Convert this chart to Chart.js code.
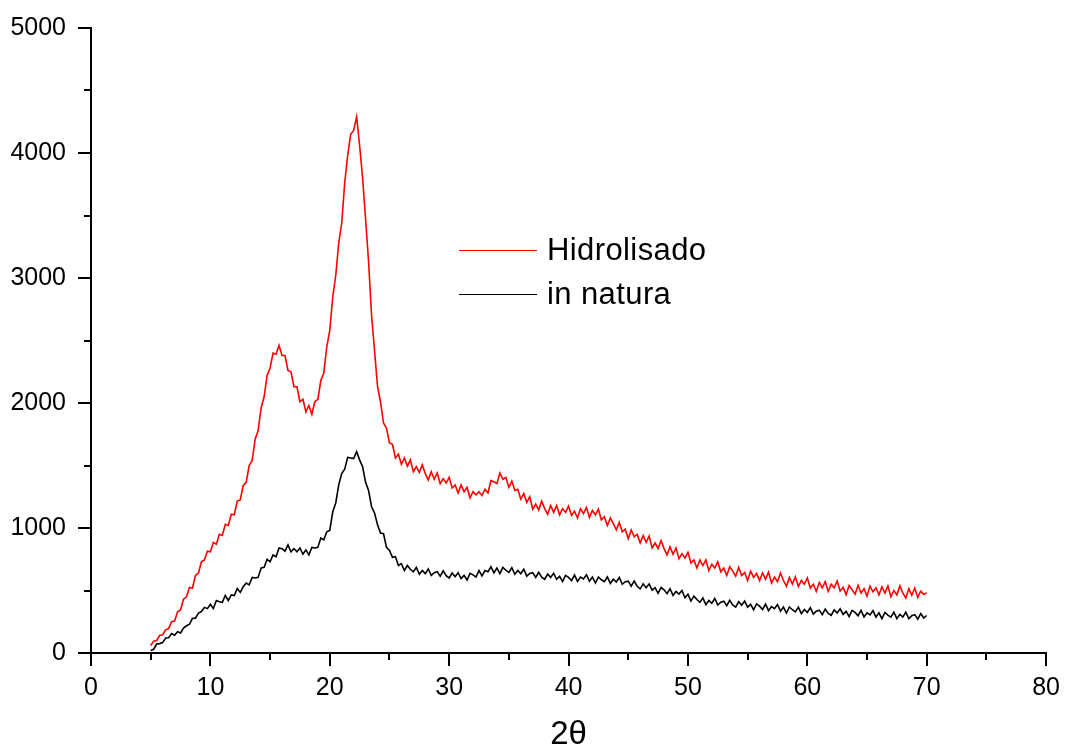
<!DOCTYPE html>
<html>
<head>
<meta charset="utf-8">
<title>DRX</title>
<script src="https://cdn.jsdelivr.net/npm/chart.js"></script>
<style>
  html, body { margin: 0; padding: 0; background: #fff; }
  #wrap { width: 1067px; height: 749px; }
</style>
</head>
<body>
<div id="wrap"><canvas id="xrd" width="1067" height="749"></canvas></div>
<script>
// 2θ sampling: 5° to 70°, every 0.25°
const thetaStart = 5;
const thetaStep = 0.25;

// intensities (counts)
const hidrolisado = [
  60, 95, 100, 140,   145, 185, 195, 250,   255, 330, 345, 430,   450, 525, 520, 620,
  640, 730, 745, 815,   810, 885, 870, 950,   940, 1030, 1020, 1110,   1105, 1215, 1225, 1340,
  1365, 1500, 1540, 1710,   1780, 1960, 2050, 2220,   2280, 2400, 2390, 2460,   2380, 2380, 2260, 2250,
  2130, 2130, 2010, 2030,   1930, 1980, 1910, 2010,   2030, 2180, 2240, 2450,   2580, 2850, 3020, 3280,
  3440, 3760, 3980, 4150,   4180, 4290, 4060, 3800,   3470, 3130, 2700, 2420,   2130, 2010, 1840, 1800,
  1680, 1670, 1560, 1590,   1510, 1560, 1495, 1545,   1450, 1490, 1445, 1505,   1435, 1385, 1450, 1390,
  1440, 1355, 1395, 1360,   1405, 1320, 1345, 1280,   1345, 1290, 1325, 1240,   1290, 1265, 1290, 1260,
  1310, 1280, 1380, 1370,   1355, 1440, 1390, 1405,   1325, 1375, 1300, 1310,   1230, 1275, 1205, 1250,
  1150, 1190, 1145, 1215,   1155, 1110, 1180, 1125,   1180, 1105, 1155, 1125,   1175, 1100, 1135, 1080,
  1155, 1115, 1165, 1085,   1140, 1105, 1150, 1065,   1090, 1020, 1080, 1035,   985, 1045, 970, 990,
  915, 985, 930, 950,   880, 940, 885, 935,   840, 880, 835, 900,   835, 785, 850, 790,
  840, 755, 795, 760,   805, 720, 745, 680,   745, 700, 745, 660,   710, 680, 730, 650,
  680, 620, 690, 655,   615, 685, 620, 645,   580, 655, 605, 637,   580, 642, 590, 647,
  560, 607, 570, 640,   580, 535, 605, 552,   610, 532, 580, 550,   600, 520, 550, 492,
  565, 522, 570, 492,   550, 522, 575, 495,   525, 467, 540, 507,   470, 542, 480, 515,
  455, 535, 490, 522,   465, 530, 480, 537,   450, 500, 465, 537,   480, 440, 515, 462,
  520, 445, 495, 470,   480
];

const inNatura = [
  20, 30, 72, 75,   83, 120, 122, 155,   142, 170, 160, 200,   218, 230, 277, 278,
  320, 332, 365, 355,   390, 355, 420, 410,   405, 460, 420, 465,   460, 515, 485, 530,
  560, 545, 605, 600,   605, 680, 685, 750,   730, 785, 770, 840,   835, 815, 865, 810,
  835, 810, 840, 790,   825, 785, 845, 840,   845, 920, 905, 970,   980, 1130, 1200, 1345,
  1435, 1470, 1565, 1560,   1555, 1610, 1545, 1490,   1365, 1300, 1170, 1120,   1025, 960, 955, 845,
  820, 765, 770, 700,   715, 660, 700, 670,   650, 685, 630, 660,   635, 672, 620, 643,
  651, 614, 657, 618,   600, 640, 610, 642,   595, 622, 584, 637,   625, 607, 660, 617,
  660, 650, 690, 642,   680, 635, 685, 662,   645, 682, 630, 660,   635, 670, 615, 637,
  643, 604, 645, 607,   590, 632, 605, 637,   590, 613, 572, 621,   605, 579, 623, 573,
  608, 592, 626, 574,   607, 560, 608, 586,   570, 608, 557, 590,   568, 604, 550, 570,
  575, 535, 575, 534,   513, 553, 523, 553,   503, 523, 478, 524,   505, 475, 515, 461,
  492, 471, 500, 442,   470, 415, 455, 428,   405, 441, 387, 420,   398, 436, 384, 407,
  415, 378, 421, 384,   367, 410, 383, 415,   367, 389, 346, 393,   375, 348, 391, 339,
  372, 355, 388, 335,   367, 320, 368, 346,   329, 367, 315, 348,   325, 363, 311, 335,
  343, 307, 352, 316,   301, 345, 320, 354,   309, 333, 292, 341,   325, 298, 341, 289,
  322, 305, 339, 287,   321, 275, 324, 303,   287, 326, 275, 309,   288, 326, 275, 298,
  307, 271, 315, 280,   300
];

const xTicksMinor = [5, 15, 25, 35, 45, 55, 65, 75];
const yTicksMinor = [500, 1500, 2500, 3500, 4500];

const FONT = "'Liberation Sans', Arial, sans-serif";

function toPoints(values) {
  return values.map((v, i) => ({ x: thetaStart + i * thetaStep, y: v }));
}

// short ticks between the labelled ones
const minorTicks = {
  id: 'minorTicks',
  afterDraw(chart) {
    const { ctx, chartArea, scales } = chart;
    ctx.save();
    ctx.strokeStyle = '#000';
    ctx.lineWidth = 2;
    ctx.beginPath();
    xTicksMinor.forEach(v => {
      const px = Math.round(scales.x.getPixelForValue(v));
      ctx.moveTo(px, chartArea.bottom);
      ctx.lineTo(px, chartArea.bottom + 7);
    });
    yTicksMinor.forEach(v => {
      const py = Math.round(scales.y.getPixelForValue(v));
      ctx.moveTo(chartArea.left - 7, py);
      ctx.lineTo(chartArea.left, py);
    });
    ctx.stroke();
    ctx.restore();
  }
};

// legend sitting inside the plot
const innerLegend = {
  id: 'innerLegend',
  afterDraw(chart) {
    const { ctx, chartArea } = chart;
    const x0 = chartArea.left + 368;
    const y0 = chartArea.top + 222;
    ctx.save();
    ctx.font = '31px ' + FONT;
    ctx.letterSpacing = '0.4px';
    ctx.textBaseline = 'middle';
    ctx.textAlign = 'left';
    chart.data.datasets.forEach((ds, i) => {
      const y = y0 + i * 44;
      ctx.strokeStyle = ds.borderColor;
      ctx.lineWidth = 1.2;
      ctx.beginPath();
      ctx.moveTo(x0, y + 0.5);
      ctx.lineTo(x0 + 78, y + 0.5);
      ctx.stroke();
      ctx.fillStyle = '#000';
      ctx.fillText(ds.label, x0 + 88, y + 1);
    });
    ctx.restore();
  }
};

new Chart('xrd', {
  type: 'line',
  data: {
    datasets: [
      {
        label: 'Hidrolisado',
        data: toPoints(hidrolisado),
        borderColor: '#ff0000',
        borderWidth: 1.6,
        pointRadius: 0,
        tension: 0,
        fill: false
      },
      {
        label: 'in natura',
        data: toPoints(inNatura),
        borderColor: '#000000',
        borderWidth: 1.6,
        pointRadius: 0,
        tension: 0,
        fill: false
      }
    ]
  },
  options: {
    responsive: false,
    animation: false,
    layout: { padding: { left: 0, right: 18, top: 28, bottom: 0 } },
    plugins: {
      legend: { display: false },
      tooltip: { enabled: false }
    },
    scales: {
      x: {
        type: 'linear',
        min: 0,
        max: 80,
        ticks: {
          stepSize: 10,
          color: '#000',
          padding: 7,
          maxRotation: 0,
          font: { family: FONT, size: 25 }
        },
        grid: { drawOnChartArea: false, tickLength: 13, color: '#000', lineWidth: 2 },
        border: { color: '#000', width: 2 },
        title: {
          display: true,
          text: '2θ',
          color: '#000',
          padding: { top: 0, bottom: -2 },
          font: { family: FONT, size: 33, lineHeight: 1 }
        },
        afterFit(scale) { scale.height = 96; }
      },
      y: {
        min: 0,
        max: 5000,
        ticks: {
          stepSize: 1000,
          color: '#000',
          padding: 12,
          font: { family: FONT, size: 25 },
          callback: v => String(v)
        },
        grid: { drawOnChartArea: false, tickLength: 13, color: '#000', lineWidth: 2 },
        border: { color: '#000', width: 2 },
        afterFit(scale) { scale.width = 91; }
      }
    }
  },
  plugins: [minorTicks, innerLegend]
});
</script>
</body>
</html>
